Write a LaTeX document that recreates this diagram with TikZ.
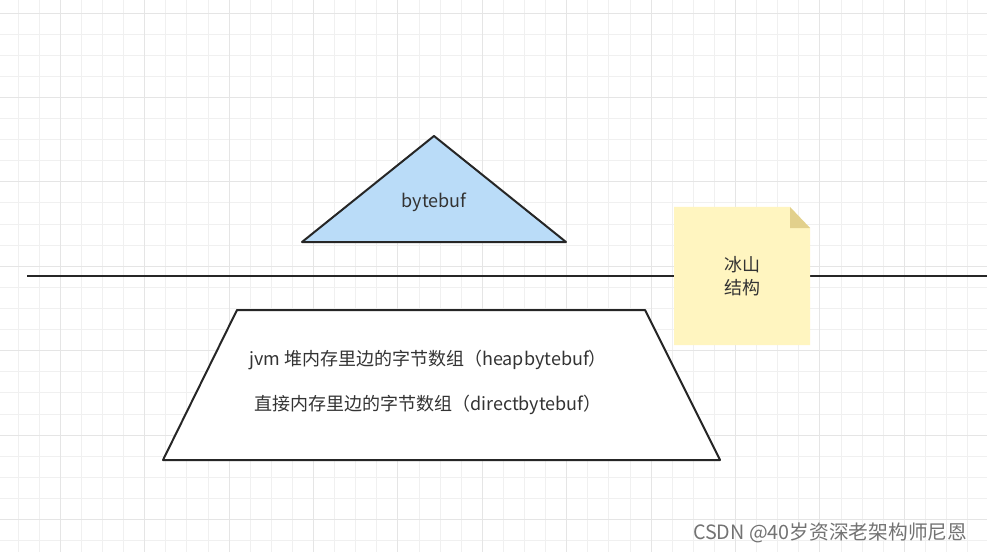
\documentclass[tikz,border=0pt]{standalone}
\usepackage{fontspec}
\setmainfont{Noto Sans CJK SC}
\definecolor{gridline}{RGB}{240,240,240}
\definecolor{gridmajor}{RGB}{229,229,229}
\definecolor{bufblue}{RGB}{186,220,248}
\definecolor{noteyellow}{RGB}{255,245,192}
\definecolor{notefold}{RGB}{226,208,140}
\definecolor{inktext}{RGB}{51,51,51}
\tikzset{
  outline/.style={draw=black!85, line width=1.5pt, line join=round},
  label/.style={text=inktext, font=\fontsize{13.5}{17.5}\selectfont, align=center}
}
\begin{document}
\begin{tikzpicture}[x=0.75pt, y=-0.75pt]
    \useasboundingbox [fill=white] (0,0) rectangle (987,552);
    % background grid
    \foreach \i in {0,...,45} {
      \pgfmathsetmacro{\gx}{18+21.1*\i}
      \draw [gridline, line width=0.6pt] (\gx,0)--(\gx,552);
    }
    \foreach \j in {0,...,25} {
      \pgfmathsetmacro{\gy}{13+21.1*\j}
      \draw [gridline, line width=0.6pt] (0,\gy)--(987,\gy);
    }
    \foreach \i in {2,6,...,42} {
      \pgfmathsetmacro{\gx}{18+21.1*\i}
      \draw [gridmajor, line width=0.7pt] (\gx,0)--(\gx,552);
    }
    \foreach \j in {0,4,...,24} {
      \pgfmathsetmacro{\gy}{13+21.1*\j}
      \draw [gridmajor, line width=0.7pt] (0,\gy)--(987,\gy);
    }
    % water line
    \draw [black!85, line width=1.5pt] (27,276)--(987,276);
    % tip of the iceberg
    \draw [outline, fill=bufblue] (434,136)--(566,242)--(302,242)--cycle;
    \node [label] (bytebuf) at (434,202) {bytebuf};
    % under the water
    \draw [outline, fill=white] (237,310)--(645,310)--(720,460)--(163,460)--cycle;
    \node [label] (heapbuf) at (428,360) {jvm 堆内存里边的字节数组（heapbytebuf）};
    \node [label] (directbuf) at (428,405) {直接内存里边的字节数组（directbytebuf）};
    % sticky note
    \fill [noteyellow] (674,207)--(790,207)--(810,228)--(810,345)--(674,345)--cycle;
    \fill [notefold] (790,207)--(810,228)--(790,228)--cycle;
    \node [label] (iceberg) at (742,276) {冰山\\结构};
    % watermark
    \node [text=black!55, font=\fontsize{14.8}{17}\selectfont, anchor=east] (mark) at (972,533) {CSDN @40岁资深老架构师尼恩};
\end{tikzpicture}
\end{document}
